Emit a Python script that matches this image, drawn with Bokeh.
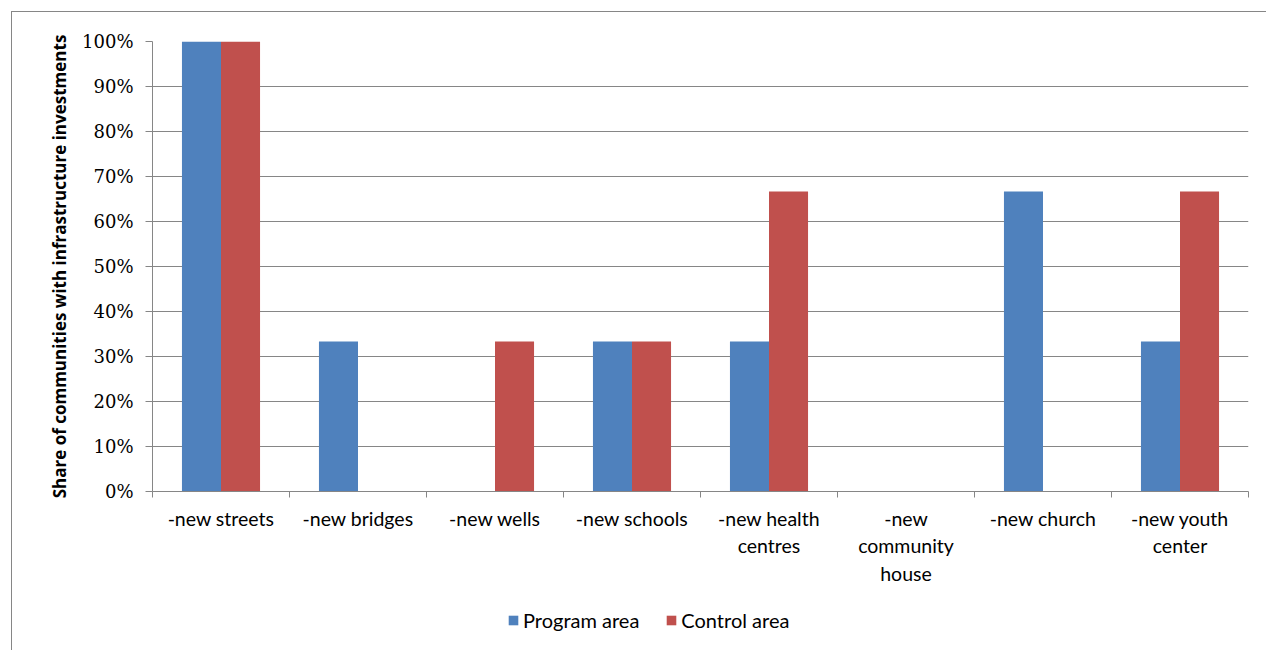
from bokeh.plotting import figure
from bokeh.layouts import column
from bokeh.models import (Range1d, FixedTicker, Legend, LegendItem,
                          NumeralTickFormatter)
from bokeh.embed import file_html
from bokeh.resources import INLINE

# Categories of infrastructure investment
categories = ["-new streets", "-new bridges", "-new wells", "-new schools",
              "-new health\ncentres", "-new\ncommunity\nhouse", "-new church",
              "-new youth\ncenter"]
# Share of communities (fraction) per area
program_area = [1.0, 1/3, 0.0, 1/3, 1/3, 0.0, 2/3, 1/3]
control_area = [1.0, 0.0, 1/3, 1/3, 2/3, 0.0, 0.0, 2/3]
series_names = ["Program area", "Control area"]
y_ticks = [0.0, 0.1, 0.2, 0.3, 0.4, 0.5, 0.6, 0.7, 0.8, 0.9, 1.0]
y_title = "Share of communities with infrastructure investments"

BLUE = "#4F81BD"
RED = "#C0504D"
GRID = "#868686"
n = len(categories)

p = figure(width=1254, height=588, output_backend="svg", toolbar_location=None,
           x_range=Range1d(0, n), y_range=Range1d(0, 1.0),
           min_border_left=140, min_border_right=18, min_border_top=29,
           min_border_bottom=109)
p.outline_line_color = None
p.background_fill_color = "white"
p.border_fill_color = "white"

bar_w = 0.285
centers = [i + 0.5 for i in range(n)]
p.vbar(x=[c - bar_w / 2 for c in centers], top=program_area, width=bar_w,
       fill_color=BLUE, line_color=None)
p.vbar(x=[c + bar_w / 2 for c in centers], top=control_area, width=bar_w,
       fill_color=RED, line_color=None)

# y axis
yax = p.yaxis[0]
yax.ticker = FixedTicker(ticks=y_ticks)
yax.formatter = NumeralTickFormatter(format="0%")
yax.major_label_text_font = "DejaVu Serif"
yax.major_label_text_font_size = "18px"
yax.major_label_text_color = "black"
yax.axis_line_color = GRID
yax.major_tick_line_color = GRID
yax.major_tick_out = 7
yax.major_tick_in = 0
yax.minor_tick_line_color = None
yax.major_label_standoff = 12
yax.axis_label = y_title
yax.axis_label_text_font = "Open Sans"
yax.axis_label_text_font_style = "bold"
yax.axis_label_text_font_size = "17px"
yax.axis_label_text_color = "black"
yax.axis_label_standoff = 8

p.ygrid.ticker = FixedTicker(ticks=y_ticks)
p.ygrid.grid_line_color = GRID
p.ygrid.grid_line_width = 1
p.xgrid.grid_line_color = None

# x axis: labels at group centres, tick marks at group boundaries
xax = p.xaxis[0]
xax.ticker = FixedTicker(ticks=centers, minor_ticks=list(range(n + 1)))
xax.major_label_overrides = {c: lab for c, lab in zip(centers, categories)}
xax.major_label_text_font = "Lato"
xax.major_label_text_font_size = "19.5px"
xax.major_label_text_color = "black"
xax.major_tick_line_color = None
xax.minor_tick_line_color = GRID
xax.minor_tick_out = 6
xax.minor_tick_in = 0
xax.axis_line_color = GRID
xax.major_label_standoff = 9

# legend strip under the chart; its keys sit far outside the visible range
leg = figure(width=1254, height=50, output_backend="svg", toolbar_location=None,
             x_range=Range1d(0, 1), y_range=Range1d(0, 1),
             min_border=0)
leg.axis.visible = False
leg.grid.visible = False
leg.outline_line_color = None
leg.background_fill_color = "white"
leg.border_fill_color = "white"
key_prog = leg.vbar(x=[-50], bottom=[-100], top=[-99], width=1,
                    fill_color=BLUE, line_color=None)
key_ctrl = leg.vbar(x=[-50], bottom=[-100], top=[-99], width=1,
                    fill_color=RED, line_color=None)
legend = Legend(items=[LegendItem(label=series_names[0], renderers=[key_prog]),
                       LegendItem(label=series_names[1], renderers=[key_ctrl])],
                orientation="horizontal", location=(355, 18),
                glyph_width=12, glyph_height=12, label_standoff=4, spacing=26,
                padding=0, margin=0,
                label_text_font="Lato", label_text_font_size="20px",
                label_text_color="black",
                border_line_color=None, background_fill_alpha=0)
leg.add_layout(legend, "center")

# the chart box sits 11px in from the page corner with a thin top/left border
layout = column(p, leg, spacing=0,
                styles={"margin-left": "11px", "margin-top": "11px",
                        "border-left": "1px solid #868686",
                        "border-top": "1px solid #868686"})

open("out.html", "w").write(file_html(layout, INLINE))
